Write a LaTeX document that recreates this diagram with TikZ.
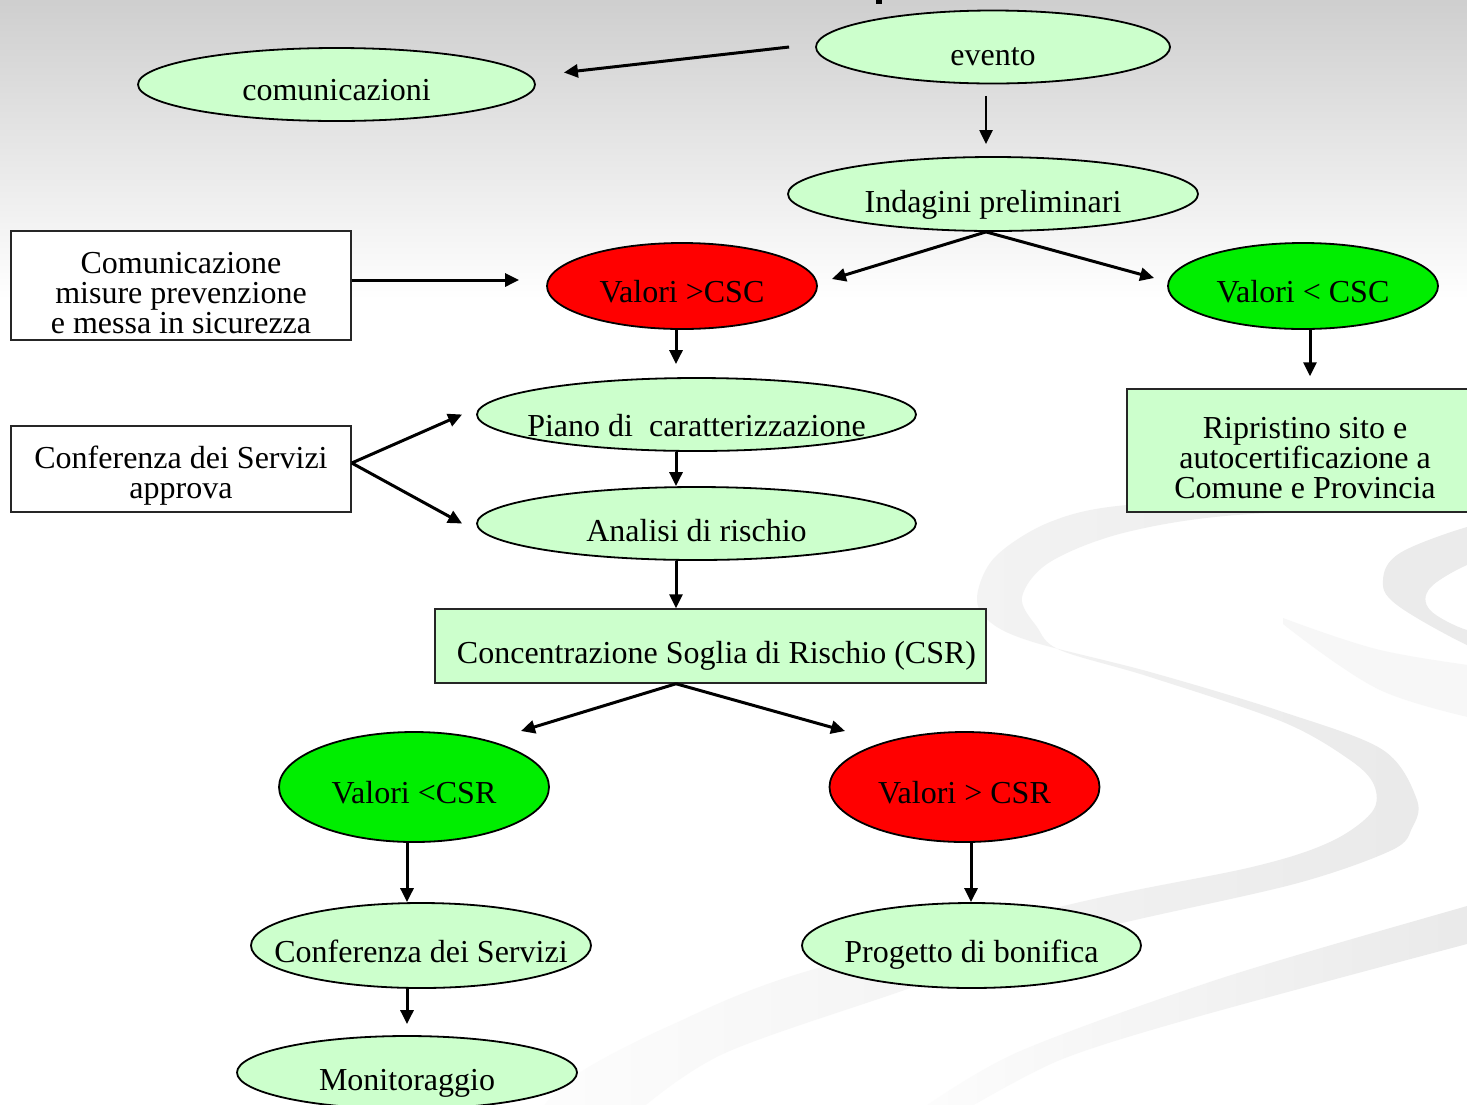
\documentclass[tikz,border=0pt]{standalone}
\usepackage{fontspec}
\setmainfont{Liberation Serif}
\usetikzlibrary{arrows.meta,shapes.geometric,calc}
\definecolor{lgreen}{HTML}{CCFFCC}
\definecolor{vred}{HTML}{FF0000}
\definecolor{vgreen}{HTML}{00EE00}
\newcommand{\topstrut}{\rule{0pt}{36pt}}
\begin{document}
\begin{tikzpicture}[x=1pt,y=-1pt,
  every node/.style={font=\fontsize{32}{30}\selectfont},
  oval/.style={ellipse, draw=black, line width=1.8pt, inner xsep=-80pt, inner ysep=0pt, text height=34pt, text depth=0pt},
  tbox/.style={rectangle, draw=black!85, line width=1.5pt, inner sep=0pt, align=center},
  arr/.style={line width=3pt, -{Triangle[length=14pt,width=13pt]}},
  swoosh/.style={left color=gray!2, middle color=gray!16, right color=gray!18}
]
\useasboundingbox (0,0) rectangle (1467,1104);
% background
\fill[white] (0,0) rectangle (1467,1104);
\shade[top color=gray!38, bottom color=white] (0,0) rectangle (1467,300);
% swooshes
\shade[swoosh] plot[smooth,tension=0.55] coordinates {(1490,497) (1300,499) (1127,505) (1050,522) (995,557) (977,597) (990,622) (1033,642) (1150,672) (1283,712) (1383,750) (1417,800) (1412,828) (1392,850) (1298,883) (1135,920) (1000,952) (913,987) (725,1053) (640,1110)}
  -- plot[smooth,tension=0.55] coordinates {(540,1110) (579,1073) (667,1027) (801,973) (1076,903) (1252,867) (1330,842) (1372,812) (1374,785) (1350,760) (1283,722) (1150,677) (1060,650) (1037,627) (1022,597) (1050,562) (1127,532) (1250,514) (1490,508)} -- cycle;
\shade[swoosh] plot[smooth,tension=0.5] coordinates {(1490,900) (1467,906) (1222,978) (1018,1052) (920,1110)}
  -- plot[smooth,tension=0.5] coordinates {(965,1110) (1060,1060) (1193,1018) (1467,944) (1490,940)} -- cycle;
\fill[gray!16] plot[smooth,tension=0.6] coordinates {(1490,527) (1467,527) (1400,553) (1383,580) (1397,605) (1467,645) (1490,648)}
  -- plot[smooth,tension=0.6] coordinates {(1490,627) (1467,630) (1430,610) (1430,588) (1467,565) (1490,562)} -- cycle;
\fill[gray!6] plot[smooth,tension=0.6] coordinates {(1283,618) (1380,650) (1490,668)}
  -- plot[smooth,tension=0.6] coordinates {(1490,722) (1380,690) (1283,624)} -- cycle;
% title fragment
\fill[black] (876,0) rectangle (882,4);
% nodes
\node[oval, fill=lgreen, minimum width=354pt, minimum height=73pt, text height=36pt] (evento) at (993,47) {evento};
\node[oval, fill=lgreen, minimum width=397pt, minimum height=73pt, text height=32pt] (comun) at (336.5,84.5) {comunicazioni};
\node[oval, fill=lgreen, minimum width=410pt, minimum height=74pt, text height=36pt] (indag) at (993,194) {Indagini preliminari};
\node[oval, fill=vred, minimum width=270pt, minimum height=86pt, text height=32pt] (vcsc) at (682,286) {Valori >CSC};
\node[oval, fill=vgreen, minimum width=270pt, minimum height=86pt, text height=32pt] (vlcsc) at (1303,286) {Valori < CSC};
\node[tbox, fill=white, minimum width=340pt, minimum height=109pt] (comm) at (181,285.5) {\topstrut Comunicazione\\misure prevenzione\\e messa in sicurezza};
\node[oval, fill=lgreen, minimum width=439pt, minimum height=73pt, text height=44pt] (piano) at (696.5,414.5) {Piano di\ \ caratterizzazione};
\node[oval, fill=lgreen, minimum width=439pt, minimum height=73pt, text height=36pt] (analisi) at (696.5,523.5) {Analisi di rischio};
\node[tbox, fill=white, minimum width=340pt, minimum height=86pt] (confbox) at (181,469) {\topstrut Conferenza dei Servizi\\approva};
\node[tbox, fill=lgreen, minimum width=356pt, minimum height=123pt] (ripr) at (1305,450.5) {\topstrut Ripristino sito e\\autocertificazione a\\Comune e Provincia};
\node[tbox, fill=lgreen, minimum width=551pt, minimum height=74pt, text height=34pt, text depth=0pt] (csr) at (710.5,646) {\hspace{12pt}Concentrazione Soglia di Rischio (CSR)};
\node[oval, fill=vgreen, minimum width=270pt, minimum height=110pt, text height=32pt] (vlcsr) at (414,787) {Valori <CSR};
\node[oval, fill=vred, minimum width=270pt, minimum height=110pt, text height=32pt] (vgcsr) at (964.5,787) {Valori > CSR};
\node[oval, fill=lgreen, minimum width=340pt, minimum height=85pt] (confs) at (421,945.5) {Conferenza dei Servizi};
\node[oval, fill=lgreen, minimum width=339pt, minimum height=85pt] (prog) at (971.5,945.5) {Progetto di bonifica};
\node[oval, fill=lgreen, minimum width=340pt, minimum height=73pt, text height=36pt] (monit) at (407,1072.5) {Monitoraggio};
% connectors
\draw[arr] ([xshift=-26pt]evento.west) -- ([xshift=28pt,yshift=12pt]comun.east);
\draw[arr, line width=2.2pt, shorten <=11.5pt, shorten >=12pt] ([xshift=-7pt]evento.south) -- ([xshift=-7pt]indag.north);
\draw[arr] ([xshift=-7pt]indag.south) -- ([xshift=14pt,yshift=7pt]vcsc.east);
\draw[arr] ([xshift=-7pt]indag.south) -- ([xshift=-13pt,yshift=8pt]vlcsc.west);
\draw[arr] ([yshift=5.5pt]comm.east) -- ([xshift=-27pt,yshift=6pt]vcsc.west);
\draw[arr, shorten >=13pt] ([xshift=-6pt]vcsc.south) -- ([xshift=-6pt]vcsc.south |- piano.north);
\draw[arr] ([xshift=-20.5pt]piano.south) -- ([xshift=-20.5pt]piano.south |- analisi.north);
\draw[arr] ([xshift=-20.5pt]analisi.south) -- ([xshift=-20.5pt]analisi.south |- csr.north);
\draw[arr] ([yshift=6pt]confbox.east) -- ([xshift=-14pt]piano.west);
\draw[arr] ([yshift=6pt]confbox.east) -- ([xshift=-14pt]analisi.west);
\draw[arr] ([xshift=-34.5pt]csr.south) -- ([shift={(107pt,56pt)}]vlcsr.center);
\draw[arr] ([xshift=-34.5pt]csr.south) -- ([shift={(-119.5pt,56pt)}]vgcsr.center);
\draw[arr] ([xshift=-7pt]vlcsr.south) -- ([xshift=-7pt]vlcsr.south |- confs.north);
\draw[arr, shorten >=11pt] ([xshift=-14pt]confs.south) -- ([xshift=-14pt]confs.south |- monit.north);
\draw[arr] ([xshift=6.5pt]vgcsr.south) -- ([xshift=6.5pt]vgcsr.south |- prog.north);
\draw[arr, shorten >=12pt] ([xshift=7pt]vlcsc.south) -- ([xshift=7pt]vlcsc.south |- ripr.north);
\end{tikzpicture}
\end{document}
